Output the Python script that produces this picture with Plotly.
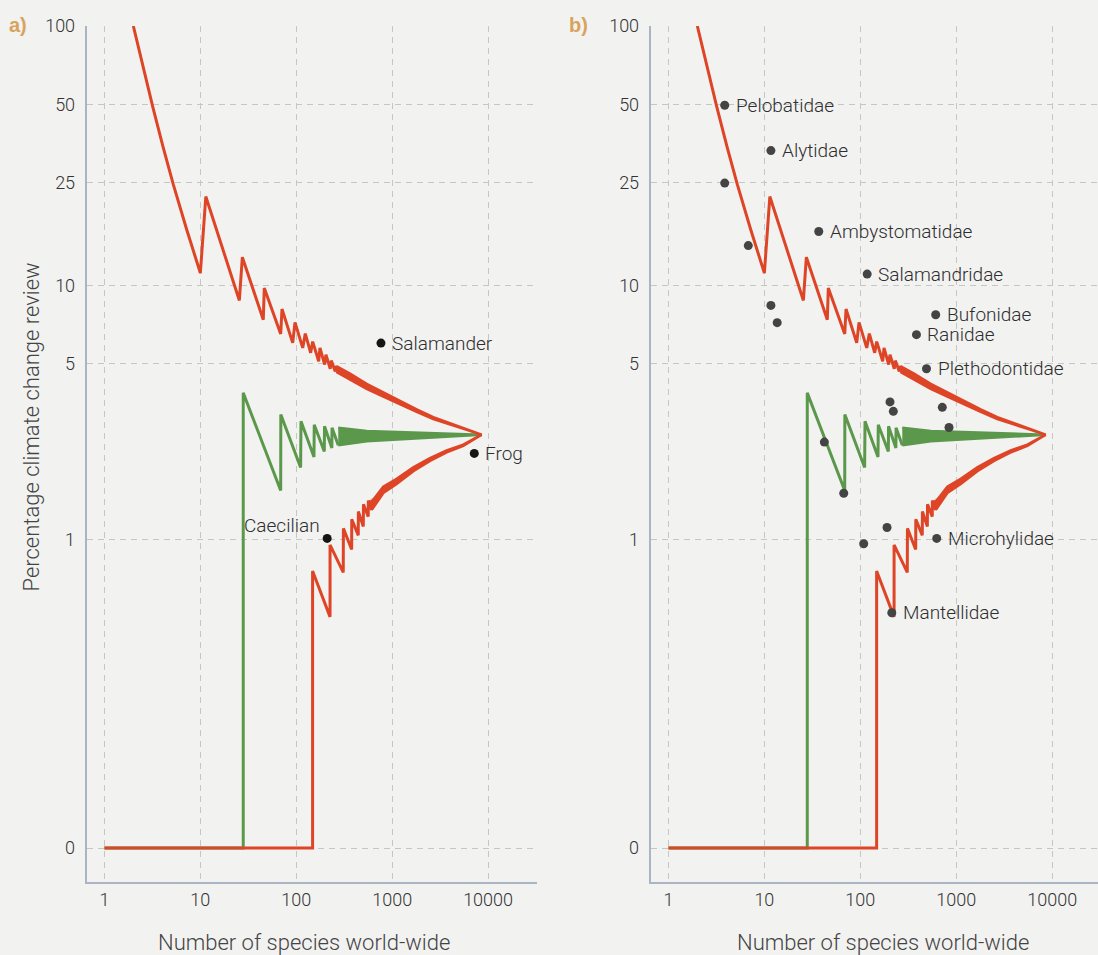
import math
import plotly.graph_objects as go

# ---------------- data ----------------
# funnel limits (number of species, percentage)
UPPER_RED_N = [2, 2.54, 3.21, 4.11, 5.22, 7.2, 10, 11.4, 25.5, 27.4, 45.3, 46.4, 68.8, 71, 91.8, 97,
               116.7, 124.2, 141.3, 148.3, 171.3, 176.7, 197.8, 204, 226, 231.7, 255, 261.4]
UPPER_RED_V = [100, 69.0, 48.5, 34.0, 24.6, 16.5, 11.2, 22.1, 8.78, 12.9, 7.39, 9.8, 6.51, 8.13, 6.01, 7.22,
               5.75, 6.53, 5.50, 6.08, 5.10, 5.75, 4.95, 5.41, 4.77, 5.13, 4.65, 4.90]
# dense part of the upper limit, drawn as a band (upper / lower envelope)
UPPER_BAND_N = [261.4, 363, 542, 808, 1237, 1801, 2683, 4005, 5978, 8570]
UPPER_BAND_HI = [4.88, 4.56, 4.16, 3.85, 3.56, 3.305, 3.085, 2.917, 2.770, 2.63]
UPPER_BAND_LO = [4.64, 4.34, 3.98, 3.71, 3.46, 3.235, 3.035, 2.883, 2.750, 2.63]

LOWER_RED_N = [1, 148, 148, 225, 225, 309, 310, 378, 379, 443, 444, 500, 502, 563, 564, 611, 612]
LOWER_RED_V = [0, 0, 0.74, 0.47, 0.95, 0.73, 1.11, 0.91, 1.21, 1.04, 1.30, 1.13, 1.39, 1.24, 1.44, 1.32, 1.45]
LOWER_BAND_N = [612, 635, 808, 1114, 1660, 2479, 3700, 5510, 8570]
LOWER_BAND_HI = [1.45, 1.45, 1.635, 1.76, 1.952, 2.126, 2.280, 2.403, 2.63]
LOWER_BAND_LO = [1.32, 1.35, 1.545, 1.68, 1.888, 2.074, 2.240, 2.377, 2.63]

GREEN_N = [1, 28, 28, 68.8, 69, 111, 112, 153, 154, 196, 197, 235, 236, 274]
GREEN_V = [0, 0, 3.84, 1.58, 3.16, 1.95, 2.97, 2.15, 2.88, 2.26, 2.84, 2.33, 2.80, 2.39]
GREEN_BAND_N = [274, 542, 8570]
GREEN_BAND_HI = [2.80, 2.72, 2.63]
GREEN_BAND_LO = [2.39, 2.48, 2.63]

# panel a: orders
A_LABELS = ["Salamander", "Frog", "Caecilian"]
A_N = [764, 7180, 210]
A_V = [6.0, 2.22, 1.01]

# panel b: families
B_LABELS = ["Pelobatidae", "", "Alytidae", "", "Ambystomatidae", "Salamandridae", "", "",
            "Bufonidae", "Ranidae", "Plethodontidae", "", "", "", "", "", "", "", "",
            "Microhylidae", "Mantellidae"]
B_N = [3.86, 3.86, 11.7, 6.8, 36.9, 118, 11.7, 13.6,
       611, 385, 490, 204, 221, 716, 841, 42.2, 67.2, 190, 108.5,
       626, 213]
B_V = [49.6, 24.9, 33.2, 14.3, 16.2, 11.1, 8.4, 7.2,
       7.73, 6.47, 4.77, 3.54, 3.25, 3.37, 2.81, 2.46, 1.54, 1.12, 0.96,
       1.01, 0.49]

X_TICKS = [1, 10, 100, 1000, 10000]
X_TICKTEXT = ["1", "10", "100", "1000", "10000"]
Y_TICKS = [0, 1, 5, 10, 25, 50, 100]
Y_TICKTEXT = ["0", "1", "5", "10", "25", "50", "100"]

# ---------------- style ----------------
C = 0.07  # offset of the log(percentage + c) scale
RED = "#de4527"
GREEN = "#5b984b"
BG = "#f2f2f1"
GRID = "#c6c6c6"
AXLINE = "#a9b5c5"
FONT = "Roboto, Liberation Sans, Helvetica, Arial, sans-serif"
LIGHT = 300
W, H = 1098, 955


def t(vals):
    return [v + C for v in vals]


fig = go.Figure()

for xa, ya in [("x", "y"), ("x2", "y2")]:
    fig.add_trace(go.Scatter(x=GREEN_N, y=t(GREEN_V), mode="lines", xaxis=xa, yaxis=ya,
                             line=dict(color=GREEN, width=3), hoverinfo="skip"))
    fig.add_trace(go.Scatter(x=GREEN_BAND_N + GREEN_BAND_N[::-1],
                             y=t(GREEN_BAND_HI) + t(GREEN_BAND_LO[::-1]),
                             mode="lines", fill="toself", fillcolor=GREEN, xaxis=xa, yaxis=ya,
                             line=dict(color=GREEN, width=2.5), hoverinfo="skip"))
    fig.add_trace(go.Scatter(x=LOWER_RED_N, y=t(LOWER_RED_V), mode="lines", xaxis=xa, yaxis=ya,
                             line=dict(color=RED, width=3), hoverinfo="skip"))
    fig.add_trace(go.Scatter(x=LOWER_BAND_N + LOWER_BAND_N[::-1],
                             y=t(LOWER_BAND_HI) + t(LOWER_BAND_LO[::-1]),
                             mode="lines", fill="toself", fillcolor=RED, xaxis=xa, yaxis=ya,
                             line=dict(color=RED, width=2.6), hoverinfo="skip"))
    fig.add_trace(go.Scatter(x=UPPER_RED_N, y=t(UPPER_RED_V), mode="lines", xaxis=xa, yaxis=ya,
                             line=dict(color=RED, width=3), hoverinfo="skip"))
    fig.add_trace(go.Scatter(x=UPPER_BAND_N + UPPER_BAND_N[::-1],
                             y=t(UPPER_BAND_HI) + t(UPPER_BAND_LO[::-1]),
                             mode="lines", fill="toself", fillcolor=RED, xaxis=xa, yaxis=ya,
                             line=dict(color=RED, width=2.6), hoverinfo="skip"))

fig.add_trace(go.Scatter(x=A_N, y=t(A_V), mode="markers", xaxis="x", yaxis="y",
                         marker=dict(color="#151515", size=9), hoverinfo="skip"))
fig.add_trace(go.Scatter(x=B_N, y=t(B_V), mode="markers", xaxis="x2", yaxis="y2",
                         marker=dict(color="#444444", size=9), hoverinfo="skip"))

XRANGE_A = [-0.185, 4.510]
XRANGE_B = [-0.185, 4.478]
YRANGE = [-1.2841, 2.0003]

ydom = [1 - 881.7 / H, 1 - 26 / H]
xdom_a = [86.7 / W, 537 / W]
xdom_b = [650.7 / W, 1.0]

tickfont = dict(family=FONT, size=18, color="#333333", weight=LIGHT)


def xaxis(dom, rng, anchor):
    return dict(domain=dom, range=rng, type="log", anchor=anchor,
                tickmode="array", tickvals=X_TICKS, ticktext=X_TICKTEXT,
                showgrid=True, gridcolor=GRID, griddash="6px,5px", gridwidth=1,
                showline=True, linecolor=AXLINE, linewidth=2, ticks="", zeroline=False,
                ticklabelstandoff=1, tickfont=tickfont)


def yaxis(anchor):
    return dict(domain=ydom, range=YRANGE, type="log", anchor=anchor,
                tickmode="array", tickvals=t(Y_TICKS), ticktext=Y_TICKTEXT,
                showgrid=True, gridcolor=GRID, griddash="6px,5px", gridwidth=1,
                showline=True, linecolor=AXLINE, linewidth=2, ticks="", zeroline=False,
                ticklabelstandoff=6, tickfont=tickfont)


labfont = dict(family=FONT, size=19, color="#2e2e2e", weight=LIGHT)
annotations = []
# point labels (placed on the log axes through log10 of the data)
for lab, n, v in zip(A_LABELS, A_N, A_V):
    left = lab == "Caecilian"
    annotations.append(dict(text=lab, x=math.log10(n), y=math.log10(v + C), xref="x", yref="y",
                            showarrow=False, xanchor="right" if left else "left", yanchor="middle",
                            xshift=-5 if left else 9, yshift=13 if left else 0, font=labfont))
for lab, n, v in zip(B_LABELS, B_N, B_V):
    if lab:
        annotations.append(dict(text=lab, x=math.log10(n), y=math.log10(v + C), xref="x2", yref="y2",
                                showarrow=False, xanchor="left", yanchor="middle", xshift=9,
                                font=labfont))

annotations += [
    dict(text="<b>a)</b>", x=17.5 / W, y=1 - 25 / H, xref="paper", yref="paper", showarrow=False,
         xanchor="center", yanchor="middle",
         font=dict(family="Liberation Sans, Arial, sans-serif", size=20, color="#d9a35e")),
    dict(text="<b>b)</b>", x=578 / W, y=1 - 25 / H, xref="paper", yref="paper", showarrow=False,
         xanchor="center", yanchor="middle",
         font=dict(family="Liberation Sans, Arial, sans-serif", size=20, color="#d9a35e")),
    dict(text="Percentage climate change review", x=31 / W, y=1 - 427.5 / H, xref="paper", yref="paper",
         showarrow=False, textangle=-90, xanchor="center", yanchor="middle",
         font=dict(family=FONT, size=22, color="#444444", weight=LIGHT)),
    dict(text="Number of species world-wide", x=304 / W, y=1 - 942 / H, xref="paper", yref="paper",
         showarrow=False, xanchor="center", yanchor="middle",
         font=dict(family=FONT, size=22, color="#444444", weight=LIGHT)),
    dict(text="Number of species world-wide", x=883.3 / W, y=1 - 942 / H, xref="paper", yref="paper",
         showarrow=False, xanchor="center", yanchor="middle",
         font=dict(family=FONT, size=22, color="#444444", weight=LIGHT)),
]

fig.update_layout(
    width=W, height=H, margin=dict(l=0, r=0, t=0, b=0, autoexpand=False),
    paper_bgcolor=BG, plot_bgcolor=BG, showlegend=False,
    font=dict(family=FONT, color="#333333"),
    xaxis=xaxis(xdom_a, XRANGE_A, "y"),
    yaxis=yaxis("x"),
    xaxis2=xaxis(xdom_b, XRANGE_B, "y2"),
    yaxis2=yaxis("x2"),
    annotations=annotations,
)

fig.write_html("out.html", config={"displayModeBar": False})
